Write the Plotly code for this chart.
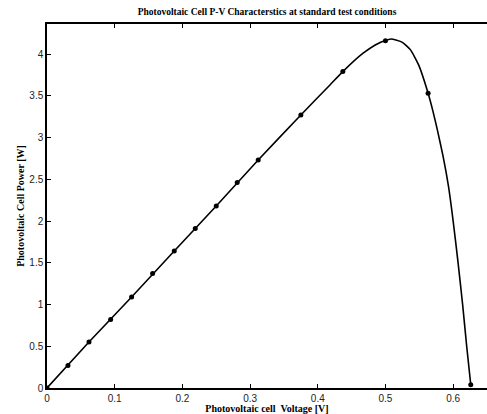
import plotly.graph_objects as go

# Marker points
V_pts = [0, 0.031, 0.062, 0.094, 0.125, 0.156, 0.188, 0.219, 0.25, 0.281, 0.312,
         0.375, 0.437, 0.50, 0.563, 0.626]
P_pts = [0, 0.27, 0.55, 0.82, 1.09, 1.37, 1.64, 1.91, 2.18, 2.46, 2.73,
         3.27, 3.79, 4.16, 3.53, 0.04]

# Points
V_curve = [0, 0.062, 0.125, 0.188, 0.25, 0.312, 0.375, 0.418, 0.437, 0.467, 0.490,
           0.508, 0.525, 0.537, 0.549, 0.563, 0.570, 0.577, 0.585, 0.593, 0.600,
           0.607, 0.614, 0.620, 0.626]
P_curve = [0, 0.55, 1.09, 1.64, 2.18, 2.73, 3.27, 3.63, 3.79, 4.01, 4.13,
           4.18, 4.14, 4.05, 3.87, 3.53, 3.32, 3.08, 2.78, 2.42, 2.00,
           1.52, 1.00, 0.50, 0.04]

x_ticks = [0, 0.1, 0.2, 0.3, 0.4, 0.5, 0.6]
x_labels = ["0", "0.1", "0.2", "0.3", "0.4", "0.5", "0.6"]
y_ticks = [0, 0.5, 1, 1.5, 2, 2.5, 3, 3.5, 4]
y_labels = ["0", "0.5", "1", "1.5", "2", "2.5", "3", "3.5", "4"]

fig = go.Figure()
fig.add_trace(go.Scatter(x=V_curve, y=P_curve, mode="lines",
                         line=dict(color="black", width=1.6, shape="spline", smoothing=0.5),
                         showlegend=False, hoverinfo="skip"))
fig.add_trace(go.Scatter(x=V_pts, y=P_pts, mode="markers",
                         marker=dict(color="black", size=5),
                         showlegend=False))

tick_font = dict(family="Liberation Sans, Arial", size=10, color="#222")
title_font = dict(family="Liberation Serif, Times New Roman", size=10, color="black")

fig.update_layout(
    width=487, height=414,
    margin=dict(l=47, r=0, t=24, b=26),
    paper_bgcolor="white", plot_bgcolor="white",
    title=dict(text="<b>Photovoltaic Cell P-V Characterstics at standard test conditions</b>",
               x=(47 + 487) / 2 / 487, xanchor="center", y=1 - 12 / 414, yanchor="middle",
               font=dict(family="Liberation Serif, Times New Roman", size=9.5, color="black")),
    xaxis=dict(range=[0, 0.65], tickvals=x_ticks, ticktext=x_labels,
               ticks="inside", ticklen=4, tickcolor="black", tickwidth=1,
               showline=True, linecolor="black", linewidth=1.5, mirror="ticks",
               showgrid=False, zeroline=False, tickfont=tick_font,
               title=dict(text="<b>Photovoltaic cell  Voltage [V]</b>", font=title_font, standoff=1)),
    yaxis=dict(range=[0, 4.36], tickvals=y_ticks, ticktext=y_labels,
               ticks="inside", ticklen=4, tickcolor="black", tickwidth=1,
               showline=True, linecolor="black", linewidth=1.5, mirror=False,
               showgrid=False, zeroline=False, tickfont=tick_font,
               title=dict(text="<b>Photovoltaic Cell Power [W]</b>", font=title_font, standoff=3)),
)

fig.write_html("out.html")
